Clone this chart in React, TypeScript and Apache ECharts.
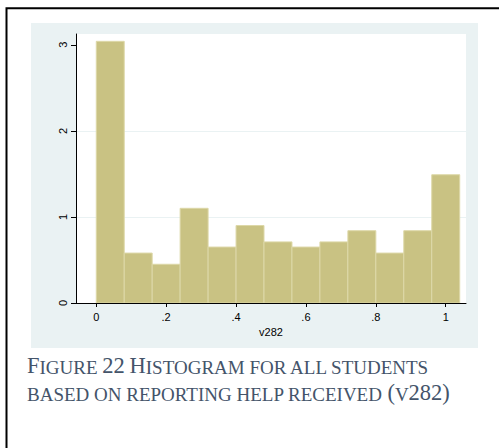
import React, { useEffect, useRef } from "react";
import * as echarts from "echarts";

// Histogram of v282: bin edges (width .08) and density per bin
const binEdges = [0, 0.08, 0.16, 0.24, 0.32, 0.4, 0.48, 0.56, 0.64, 0.72, 0.8, 0.88, 0.96, 1.04];
const densities = [3.04, 0.58, 0.45, 1.1, 0.65, 0.9, 0.71, 0.65, 0.71, 0.84, 0.58, 0.84, 1.49];

const xTickValues = [0, 0.2, 0.4, 0.6, 0.8, 1];
const xTickLabels = ["0", ".2", ".4", ".6", ".8", "1"];
const yTickValues = [0, 1, 2, 3];
const yTickLabels = ["0", "1", "2", "3"];
const xAxisTitle = "v282";

const captionLines = [
  "Figure 22 Histogram for all students",
  "based on reporting help received (v282)",
];

const SANS = '"Liberation Sans", Arial, Helvetica, sans-serif';
const SERIF = '"Liberation Serif", "Times New Roman", Times, serif';
const CAPTION_COLOR = "#44546a";
const BIG = 22.5;
const SMALL = 19;

// Word-style small caps: lowercase letters become smaller capitals
function smallCapsRich(line: string): string {
  let out = "";
  let run = "";
  let kind = "";
  for (const ch of line) {
    const k = /[a-z ]/.test(ch) ? "s" : "b";
    if (k !== kind && run) {
      out += `{${kind}|${run}}`;
      run = "";
    }
    kind = k;
    run += k === "s" ? ch.toUpperCase() : ch;
  }
  if (run) out += `{${kind}|${run}}`;
  return out;
}

const captionRich = {
  b: { fontFamily: SERIF, fontSize: BIG, lineHeight: BIG, fill: CAPTION_COLOR, verticalAlign: "bottom" },
  s: { fontFamily: SERIF, fontSize: SMALL, lineHeight: SMALL, fill: CAPTION_COLOR, verticalAlign: "bottom" },
};

export default function App() {
  const ref = useRef<HTMLDivElement>(null);

  useEffect(() => {
    if (!ref.current) return;
    const chart = echarts.init(ref.current, undefined, { renderer: "svg" });

    const bins = densities.map((d, i) => [binEdges[i], binEdges[i + 1], d]);

    chart.setOption({
      animation: false,
      backgroundColor: "#ffffff",
      grid: {
        left: 76,
        top: 34,
        right: 33,
        bottom: 145,
        show: true,
        backgroundColor: "#ffffff",
        borderWidth: 0,
        containLabel: false,
        outerBoundsMode: "none",
      },
      xAxis: {
        type: "value",
        min: -0.058,
        max: 1.058,
        z: 5,
        name: xAxisTitle,
        nameLocation: "middle",
        nameGap: 19,
        nameTextStyle: { color: "#000000", fontSize: 11, fontFamily: SANS },
        axisLine: { show: true, onZero: false, lineStyle: { color: "#000000", width: 1 } },
        axisTick: {
          show: true,
          length: 4,
          customValues: xTickValues,
          lineStyle: { color: "#000000", width: 1 },
        },
        axisLabel: {
          customValues: xTickValues,
          formatter: (v: number) => {
            const i = xTickValues.findIndex((t) => Math.abs(t - v) < 1e-9);
            return i >= 0 ? xTickLabels[i] : "";
          },
          color: "#000000",
          fontSize: 11,
          fontFamily: SANS,
          margin: 8,
        },
        splitLine: { show: false },
      },
      yAxis: {
        type: "value",
        min: 0,
        max: 3.125,
        interval: 1,
        axisLine: { show: true, onZero: false, lineStyle: { color: "#000000", width: 1 } },
        axisTick: {
          show: true,
          length: 5,
          customValues: yTickValues,
          lineStyle: { color: "#000000", width: 1 },
        },
        axisLabel: {
          customValues: yTickValues,
          formatter: (v: number) => {
            const i = yTickValues.findIndex((t) => Math.abs(t - v) < 1e-9);
            return i >= 0 ? yTickLabels[i] : "";
          },
          rotate: 90,
          color: "#000000",
          fontSize: 11,
          fontFamily: SANS,
          margin: 8,
        },
        splitLine: {
          show: true,
          showMinLine: false,
          showMaxLine: false,
          lineStyle: { color: "#eaf2f3", width: 1 },
        },
      },
      series: [
        {
          type: "custom",
          data: bins,
          encode: { x: [0, 1], y: 2 },
          clip: false,
          renderItem: (_params: any, api: any) => {
            const topLeft = api.coord([api.value(0), api.value(2)]);
            const bottomRight = api.coord([api.value(1), 0]);
            return {
              type: "rect",
              shape: {
                x: topLeft[0],
                y: topLeft[1],
                width: bottomRight[0] - topLeft[0],
                height: bottomRight[1] - topLeft[1],
              },
              style: { fill: "#c9c283", stroke: "#ddd8a8", lineWidth: 1 },
            };
          },
        },
      ],
      graphic: [
        {
          type: "rect",
          z: -1,
          silent: true,
          shape: { x: 31, y: 23, width: 447, height: 325 },
          style: { fill: "#eaf2f3" },
        },
        {
          type: "polyline",
          z: 10,
          silent: true,
          shape: { points: [[6.5, 460], [6.5, 8.3], [510, 8.3]] },
          style: { fill: "none", stroke: "#000000", lineWidth: 2 },
        },
        {
          type: "text",
          z: 10,
          x: 27,
          y: 377.3,
          style: {
            text: smallCapsRich(captionLines[0]),
            rich: captionRich,
            align: "left",
            verticalAlign: "bottom",
          },
        },
        {
          type: "text",
          z: 10,
          x: 27,
          y: 403.8,
          style: {
            text: smallCapsRich(captionLines[1]),
            rich: captionRich,
            align: "left",
            verticalAlign: "bottom",
          },
        },
      ],
    });

    return () => chart.dispose();
  }, []);

  return (
    <div
      ref={ref}
      style={{ position: "absolute", left: 0, top: 0, width: 499, height: 448, background: "#ffffff" }}
    />
  );
}
